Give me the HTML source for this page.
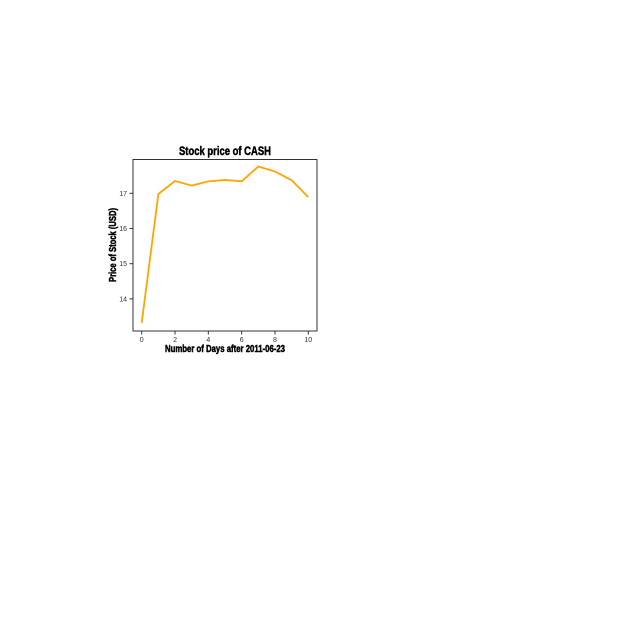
<!DOCTYPE html>
<html><head><meta charset="utf-8"><style>
body{margin:0;background:#fff;width:640px;height:640px;overflow:hidden}
svg{display:block}
text{font-family:"Liberation Sans",sans-serif}
.heavy{stroke:#000;stroke-width:0.5}
</style></head><body>
<svg id="chart" width="640" height="640">
<rect x="133" y="159.5" width="184" height="171.5" fill="none" stroke="#333" stroke-width="1"/>
<text class="heavy" x="225" y="155" text-anchor="middle" font-size="12" font-weight="bold" textLength="92" lengthAdjust="spacingAndGlyphs">Stock price of CASH</text>
<text class="heavy" x="225" y="352" text-anchor="middle" font-size="10" font-weight="bold" textLength="120" lengthAdjust="spacingAndGlyphs">Number of Days after 2011-06-23</text>
<text class="heavy" transform="translate(116,245) rotate(-90)" text-anchor="middle" font-size="10" font-weight="bold" textLength="74" lengthAdjust="spacingAndGlyphs">Price of Stock (USD)</text>
<g id="ticks"></g>
<polyline id="line" fill="none" stroke="#ffa500" stroke-width="1.8"/>
</svg>
<script>
const days=[0,1,2,3,4,5,6,7,8,9,10];
const prices=[13.32,16.98,17.35,17.22,17.34,17.38,17.34,17.76,17.62,17.37,16.89];
const xTicks=[0,2,4,6,8,10];
const yTicks=[14,15,16,17];
const sx=v=>141.7+v*16.66;
const sy=v=>193.3-(v-17)*35.2;
const ns="http://www.w3.org/2000/svg";
const g=document.getElementById('ticks');
xTicks.forEach(t=>{
 const l=document.createElementNS(ns,'line');
 l.setAttribute('x1',sx(t));l.setAttribute('x2',sx(t));l.setAttribute('y1',331);l.setAttribute('y2',334.5);l.setAttribute('stroke','#333');
 
 
 g.appendChild(l);
 const tx=document.createElementNS(ns,'text');
 tx.setAttribute('x',sx(t));tx.setAttribute('y',342);tx.setAttribute('text-anchor','middle');tx.setAttribute('font-size','7');tx.setAttribute('fill','#333');
 tx.textContent=t;
 
 
 g.appendChild(tx);
});
yTicks.forEach(t=>{
 const l=document.createElementNS(ns,'line');
 l.setAttribute('x1',129.5);l.setAttribute('x2',133);l.setAttribute('y1',sy(t));l.setAttribute('y2',sy(t));l.setAttribute('stroke','#333');
 
 
 g.appendChild(l);
 const tx=document.createElementNS(ns,'text');
 tx.setAttribute('x',127);tx.setAttribute('y',sy(t)+2.5);tx.setAttribute('text-anchor','end');tx.setAttribute('font-size','7');tx.setAttribute('fill','#333');
 tx.textContent=t;
 
 
 g.appendChild(tx);
});
document.getElementById('line').setAttribute('points',days.map((d,i)=>sx(d)+','+sy(prices[i])).join(' '));
</script>
</body></html>
